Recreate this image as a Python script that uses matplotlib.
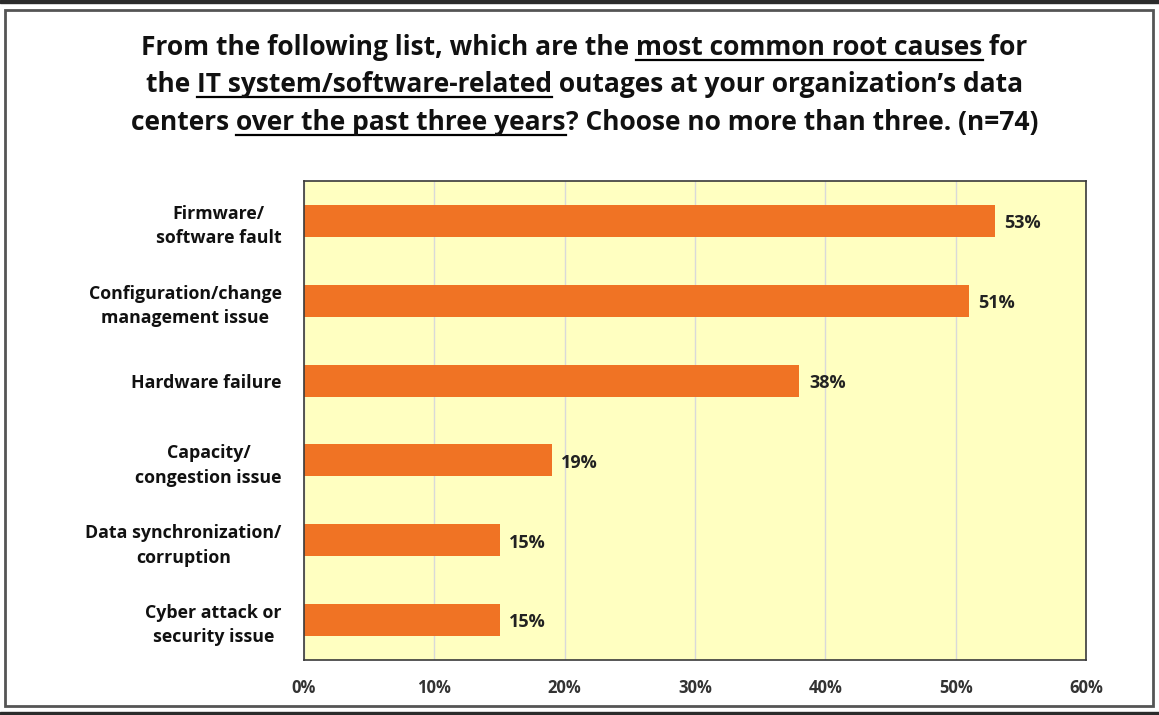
import matplotlib.pyplot as plt
from matplotlib.patches import Rectangle
from matplotlib.lines import Line2D

plt.rcParams['font.family'] = ['Open Sans', 'DejaVu Sans']
plt.rcParams['font.weight'] = 'bold'

categories = ["Firmware/\nsoftware fault",
              "Configuration/change\nmanagement issue",
              "Hardware failure",
              "Capacity/\ncongestion issue",
              "Data synchronization/\ncorruption",
              "Cyber attack or\nsecurity issue"]
values = [53, 51, 38, 19, 15, 15]
xticks = [0, 10, 20, 30, 40, 50, 60]
xtick_labels = ["0%", "10%", "20%", "30%", "40%", "50%", "60%"]

# title pieces: (text, underlined)
title_lines = [
    [("From the following list, which are the ", False), ("most common root causes", True), (" for", False)],
    [("the ", False), ("IT system/software-related", True), (" outages at your organization\u2019s data", False)],
    [("centers ", False), ("over the past three years", True), ("? Choose no more than three. (n=74)", False)],
]

W, H = 1159, 715
fig = plt.figure(figsize=(W / 100, H / 100), dpi=100)

# outer frame
fig.patches.append(Rectangle((0, 1 - 3 / H), 1, 3 / H, transform=fig.transFigure,
                             color="#2b2b2b", zorder=0))
fig.patches.append(Rectangle((0, 0), 1, 3 / H, transform=fig.transFigure,
                             color="#2b2b2b", zorder=0))
fig.patches.append(Rectangle((5 / W, 9 / H), 1148 / W, (H - 19) / H, transform=fig.transFigure,
                             fill=False, ec="#555555", lw=2, zorder=1))

ax = fig.add_axes([304 / W, 1 - 660 / H, 782 / W, 479 / H])
ax.set_facecolor("#FFFFC1")
ax.set_axisbelow(True)
ax.grid(axis='x', color="#D9D9D9", lw=1)
for s in ax.spines.values():
    s.set_color("#3a3a3a")
    s.set_linewidth(1.2)

ypos = list(range(len(categories)))
ax.barh(ypos, values, height=0.4, color="#F07324")
for y, v in zip(ypos, values):
    ax.text(v + 0.75, y + 0.03, f"{v}%", va='center', ha='left', fontsize=13, fontweight='bold',
            color="#222222")

ax.set_ylim(len(categories) - 0.5, -0.5)
ax.set_xlim(0, 60)
ax.set_yticks(ypos)
ax.set_yticklabels(categories, fontsize=12.8, fontweight='bold', multialignment='center',
                   linespacing=1.45, color="#111111")
ax.set_xticks(xticks)
ax.set_xticklabels(xtick_labels, fontsize=12, fontweight='bold', color="#333333")
ax.tick_params(axis='both', length=0)
ax.tick_params(axis='y', pad=16)
ax.tick_params(axis='x', pad=14)

# title with underlined words
fig.canvas.draw()
renderer = fig.canvas.get_renderer()
baselines = [55, 92, 130]
fs = 19
for line, yb in zip(title_lines, baselines):
    pieces = []
    total = 0
    for txt, ul in line:
        t = fig.text(0, 0, txt, fontsize=fs, fontweight='bold', va='baseline', ha='left',
                     color="#111111")
        w = t.get_window_extent(renderer).width
        pieces.append((t, w, ul))
        total += w
    x = (W - total) / 2 + 5
    for t, w, ul in pieces:
        t.set_position((x / W, 1 - yb / H))
        if ul:
            fig.lines.append(Line2D([x / W, (x + w) / W], [1 - (yb + 5) / H] * 2,
                                    transform=fig.transFigure, color="black", lw=1.6))
        x += w

fig.savefig("out.png", dpi=100)
